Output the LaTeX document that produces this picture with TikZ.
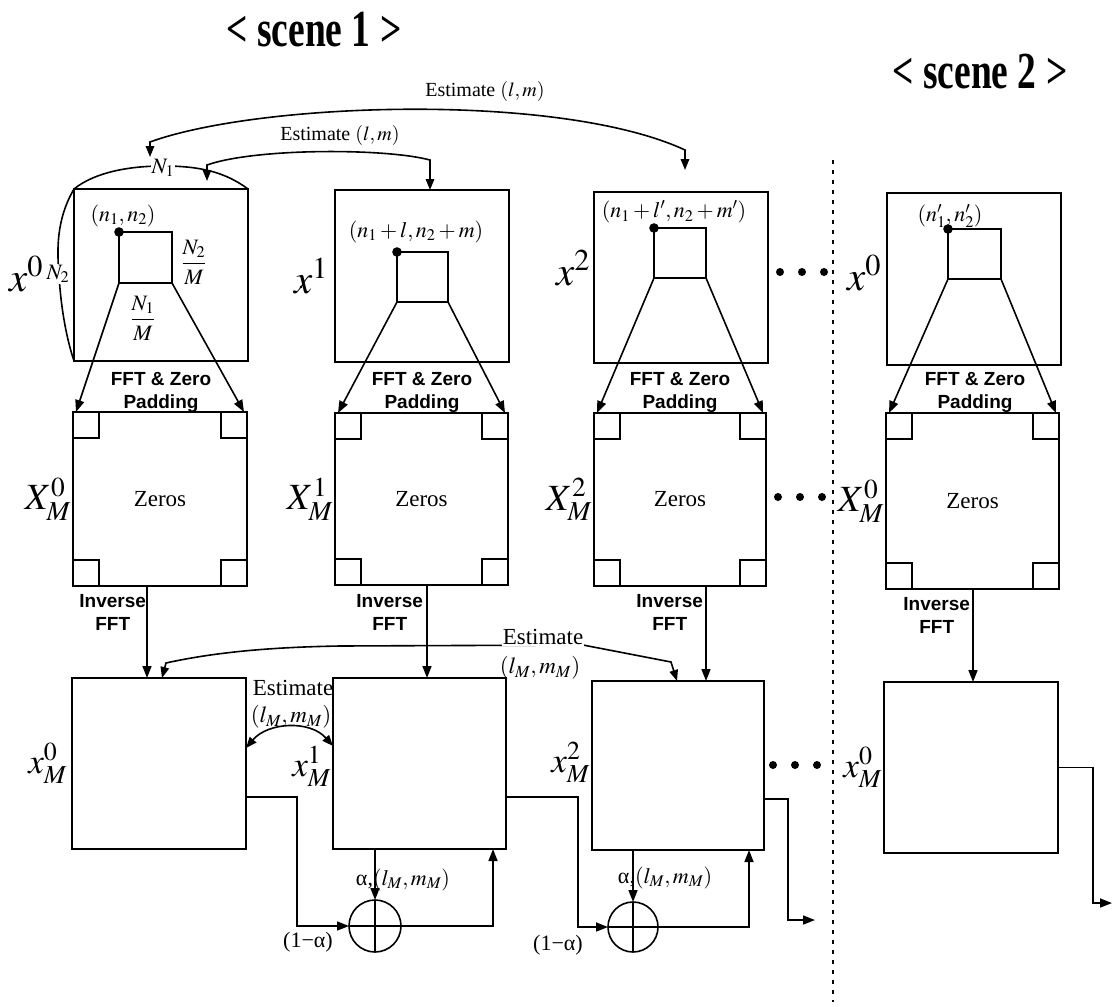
\documentclass[tikz,border=0pt]{standalone}
\usepackage{mathptmx}
\usepackage{fontspec}
\setmainfont{Liberation Serif}
\newfontfamily\arialfont{Liberation Sans}
\usetikzlibrary{arrows.meta}
\begin{document}
\begin{tikzpicture}[x=1pt,y=-1pt, line width=1.6pt,
  every node/.style={outer sep=0pt},
  bx/.style={draw, line width=1.6pt, inner sep=0pt, anchor=north west},
  sq/.style={draw, line width=1.5pt, minimum size=26pt, inner sep=0pt},
  tip/.style={-{Triangle[length=12pt,width=9pt]}},
  dtip/.style={{Triangle[length=11pt,width=8.5pt]}-{Triangle[length=11pt,width=8.5pt]}},
  sans/.style={font=\arialfont\bfseries\fontsize{19}{23}\selectfont, align=center, inner sep=0pt},
  lab/.style={font=\fontsize{22}{25}\selectfont, inner sep=0pt},
  est/.style={font=\fontsize{20}{23}\selectfont, inner sep=1pt},
  estb/.style={font=\fontsize{23}{26}\selectfont, inner sep=1pt},
  bigx/.style={font=\fontsize{41}{44}\selectfont, inner sep=0pt},
  bigX/.style={font=\fontsize{37}{40}\selectfont, inner sep=0pt},
  midx/.style={font=\fontsize{35}{38}\selectfont, inner sep=0pt},
  title/.style={font=\fontsize{52}{56}\selectfont\bfseries, xscale=0.72, inner sep=0pt},
  bdot/.style={circle, fill, inner sep=0pt, minimum size=8pt},
]
\useasboundingbox (0,0) rectangle (1113,1006);

% titles
\node[title] (sc1) at (314,30) {< scene 1 >};
\node[title] (sc2) at (980,72) {< scene 2 >};

% top boxes
\node[bx, minimum width=174pt, minimum height=172pt] (T0) at (74,189) {};
\node[bx, minimum width=174pt, minimum height=172pt] (T1) at (335,190) {};
\node[bx, minimum width=174pt, minimum height=171pt] (T2) at (594,192) {};
\node[bx, minimum width=174pt, minimum height=172pt] (T3) at (887,193) {};
% inner squares
\node[bx, minimum width=53pt, minimum height=51pt] (S0) at (119,232) {};
\node[bx, minimum width=51pt, minimum height=50pt] (S1) at (397,252) {};
\node[bx, minimum width=52pt, minimum height=50pt] (S2) at (654,228) {};
\node[bx, minimum width=53pt, minimum height=50pt] (S3) at (948,229) {};
\foreach \s in {S0,S1,S2,S3}{\fill (\s.north west) circle (4.8);}

% X boxes
\node[bx, minimum width=174pt, minimum height=174pt] (X0) at (73,412) {};
\node[bx, minimum width=173pt, minimum height=172pt] (X1) at (335,413) {};
\node[bx, minimum width=172pt, minimum height=173pt] (X2) at (594,413) {};
\node[bx, minimum width=173pt, minimum height=176pt] (X3) at (886,413) {};
\foreach \b in {X0,X1,X2,X3}{
  \foreach \a/\n in {north west/nw, north east/ne, south west/sw, south east/se}{
    \node[sq, anchor=\a] (\b\n) at (\b.\a) {};
  }
  \node[estb] (\b z) at (\b.center) {Zeros};
}

% xM boxes
\node[bx, minimum width=174pt, minimum height=171pt] (M0) at (72,678) {};
\node[bx, minimum width=173pt, minimum height=171pt] (M1) at (333,678) {};
\node[bx, minimum width=172pt, minimum height=169pt] (M2) at (592,681) {};
\node[bx, minimum width=174pt, minimum height=171pt] (M3) at (884,682) {};

% fan arrows
\foreach \i in {0,1,2,3}{
  \draw[tip] (S\i.south west) -- ([xshift=3pt]X\i.north west);
  \draw[tip] (S\i.south east) -- ([xshift=-3pt]X\i.north east);
}
\node[sans] (F0) at (161,392) {FFT \& Zero\\Padding};
\node[sans] (F1) at (422,392) {FFT \& Zero\\Padding};
\node[sans] (F2) at (680,392) {FFT \& Zero\\Padding};
\node[sans] (F3) at (975,392) {FFT \& Zero\\Padding};

% inverse FFT
\coordinate (v0) at (147,0);
\coordinate (v1) at (427,0);
\coordinate (v2) at (706,0);
\coordinate (v3) at (973,0);
\foreach \i in {0,1,2,3}{
  \draw[tip] (X\i.south -| v\i) -- (M\i.north -| v\i);
}
\node[sans, anchor=north east] (I0) at (146,594) {Inverse\\FFT};
\node[sans, anchor=north east] (I1) at (423,594) {Inverse\\FFT};
\node[sans, anchor=north east] (I2) at (703,594) {Inverse\\FFT};
\node[sans, anchor=north east] (I3) at (970,597) {Inverse\\FFT};

% brackets N1, N2
\draw (T0.north west) .. controls (95,172) and (130,166) .. (163,166) .. controls (200,166) and (225,172) .. (T0.north east);
\draw (T0.north west) .. controls (56,220) and (57,250) .. (59,275) .. controls (61,310) and (67,340) .. (T0.south west);
\node[lab, fill=white, inner sep=1pt] (N1) at (163,168) {$N_1$};
\node[lab, fill=white, inner sep=1pt] (N2) at (58,274) {$N_2$};
\node[lab] (f2) at (194,262) {$\displaystyle\frac{N_2}{M}$};
\node[lab] (f1) at (143,318) {$\displaystyle\frac{N_1}{M}$};

% point labels
\node[lab] (p0) at (123,216) {$(n_1,n_2)$};
\node[lab] (p1) at (416,232) {$(n_1+l,n_2+m)$};
\node[lab] (p2) at (674,212) {$(n_1+l',n_2+m')$};
\node[lab] (p3) at (950,216) {$(n'_1,n'_2)$};

% top row labels
\node[bigx] (lx0) at (26,274) {$x^0$};
\node[bigx] (lx1) at (311,276) {$x^1$};
\fill (301,287) circle (1.3);
\node[bigx] (lx2) at (573,268) {$x^2$};
\node[bigx] (lx3) at (864,273) {$x^0$};

% X labels
\node[bigX, anchor=east] (lX0) at ([xshift=-2pt]X0.west) {$X_M^0$};
\node[bigX, anchor=east] (lX1) at ([xshift=-2pt]X1.west) {$X_M^1$};
\node[bigX, anchor=east] (lX2) at ([xshift=-2pt]X2.west) {$X_M^2$};
\node[bigX, anchor=east] (lX3) at ([xshift=-2pt]X3.west) {$X_M^0$};

% xM labels
\node[midx, anchor=east] (lm0) at ([xshift=-5pt]M0.west) {$x_M^0$};
\node[midx, anchor=east] (lm1) at ([xshift=-2pt,yshift=-3pt]M1.west) {$x_M^1$};
\node[midx, anchor=east] (lm2) at ([xshift=-2pt,yshift=3pt]M2.west) {$x_M^2$};
\node[midx, anchor=east] (lm3) at ([xshift=-2pt]M3.west) {$x_M^0$};

% dots
\foreach \y/\x in {272/780, 497/778, 765/773}{
  \node[bdot] (d\y a) at (\x,\y) {};
  \node[bdot] (d\y b) at (\x+22,\y) {};
  \node[bdot] (d\y c) at (\x+44,\y) {};
}

% dotted separator
\coordinate (dl1) at (833,160);
\coordinate (dl2) at (833,1002);
\draw[line width=2.6pt, dash pattern=on 4pt off 6pt] (dl1) -- (dl2);

% top estimate arcs
\coordinate (ea) at (150,157);
\coordinate (eb) at (685,170);
\draw[dtip] (ea) -- (150,142) .. controls (260,102) and (560,92) .. (685,150) -- (eb);
\node[est] (E1) at (485,92) {Estimate $(l,m)$};
\coordinate (ec) at (207,181);
\coordinate (ed) at (430,0);
\draw[dtip] (ec) -- (207,165) .. controls (255,148) and (385,148) .. (430,160) -- (T1.north -| ed);
\node[est] (E2) at (340,135) {Estimate $(l,m)$};

% bottom estimate arcs
\coordinate (ba) at (162,0);
\coordinate (bb) at (677,0);
\draw[dtip] (M0.north -| ba) -- (166,663) .. controls (220,651) and (280,647) .. (340,646) -- (583,645) -- (671,662) -- (M2.north -| bb);
\node[estb, fill=white] (E3) at (543,637) {Estimate};
\node[estb] (E3b) at (540,668) {$(l_M,m_M)$};
\draw[dtip] ([yshift=15.5pt]M0.east) .. controls (268,722) and (310,720) .. ([yshift=17.5pt]M1.west);
\node[estb] (E4) at (293,688) {Estimate};
\node[estb] (E4b) at (291,717) {$(l_M,m_M)$};

% adders
\node[draw, circle, minimum size=52pt, inner sep=0pt] (A1) at (375,926) {};
\node[draw, circle, minimum size=50pt, inner sep=0pt] (A2) at (633,927) {};
\foreach \a in {A1,A2}{
  \draw (\a.north) -- (\a.south);
  \draw (\a.west) -- (\a.east);
}
\coordinate (r0) at (297,0);
\coordinate (r1) at (493,0);
\coordinate (r2) at (578,0);
\coordinate (r3) at (749,0);
\draw[tip] ([yshift=-33.5pt]M0.east) -| (r0 |- A1) -- (A1.west);
\draw[tip] (M1.south -| A1) -- (A1.north);
\draw[tip] (A1.east) -| (M1.south -| r1);
\draw[tip] ([yshift=-33.5pt]M1.east) -| (r2 |- A2) -- (A2.west);
\draw[tip] (M2.south -| A2) -- (A2.north);
\draw[tip] (A2.east) -| (M2.south -| r3);
\coordinate (k2) at (788,920);
\coordinate (e2) at (815,920);
\draw[tip] ([yshift=-33.5pt]M2.east) -| (k2) -- (e2);
\coordinate (k3) at (1093,903);
\coordinate (e3) at (1112,903);
\draw[tip] (M3.east) -| (k3) -- (e3);

\node[lab] (al1) at (403,880) {α,$(l_M,m_M)$};
\node[lab] (al2) at (665,878) {α,$(l_M,m_M)$};
\node[lab] (om1) at (308,942) {(1−α)};
\node[lab] (om2) at (558,945) {(1−α)};
\end{tikzpicture}
\end{document}
